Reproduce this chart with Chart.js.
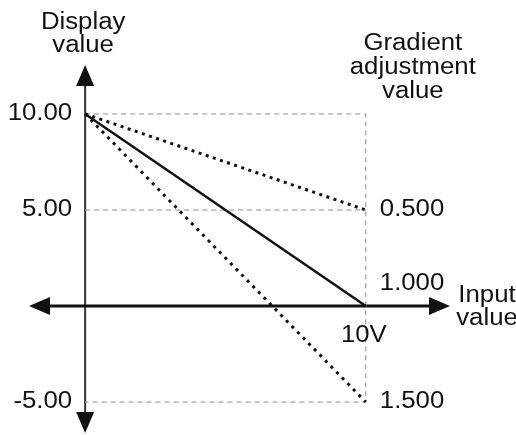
<!DOCTYPE html>
<html>
<head>
<meta charset="utf-8">
<script src="https://cdn.jsdelivr.net/npm/chart.js@4.4.0/dist/chart.umd.min.js"></script>
<style>
    html, body { margin: 0; padding: 0; background: #fff; }
    #wrap { width: 516px; height: 435px; }
</style>
</head>
<body>
<div id="wrap"><canvas id="chart"></canvas></div>
<script>
// input range (V) and the display value at each end, one list per gradient setting
const inputValues = [0, 10];
const gradient050 = [10, 5];
const gradient100 = [10, 0];
const gradient150 = [10, -5];

// tick labels
const displayTicks = [10, 5, -5];
const displayLabels = ['10.00', '5.00', '-5.00'];
const gradientAt = [5, 0, -5];
const gradientLabels = ['0.500', '1.000', '1.500'];
const fullScaleLabel = '10V';

const INK = '#111';
const FONT = '23px "Liberation Sans", Arial, sans-serif';

function points(ys) {
    return inputValues.map((x, i) => ({ x: x, y: ys[i] }));
}

// text in the source is a bit wider than Arial, so stretch it a little
function drawText(ctx, text, x, y, align) {
    ctx.save();
    ctx.translate(x, y);
    ctx.scale(1.12, 1);
    ctx.textAlign = align;
    ctx.textBaseline = 'middle';
    ctx.fillText(text, 0, 0);
    ctx.restore();
}

function arrow(ctx, tipX, tipY, dx, dy, len, half) {
    // dx, dy: unit direction the arrow points to
    const bx = tipX - dx * len, by = tipY - dy * len;
    ctx.beginPath();
    ctx.moveTo(tipX, tipY);
    ctx.lineTo(bx - dy * half, by + dx * half);
    ctx.lineTo(bx + dy * half, by - dx * half);
    ctx.closePath();
    ctx.fill();
}

const axesPlugin = {
    id: 'axesPlugin',
    beforeDatasetsDraw(chart) {
        const { ctx, chartArea: a, scales: { x, y } } = chart;
        const x0 = x.getPixelForValue(0);
        const y0 = y.getPixelForValue(0);
        ctx.save();
        ctx.strokeStyle = '#333';
        ctx.fillStyle = INK;
        ctx.lineWidth = 2;
        ctx.beginPath();
        ctx.moveTo(x0, a.top + 10);
        ctx.lineTo(x0, a.bottom - 10);
        ctx.stroke();
        ctx.strokeStyle = INK;
        ctx.lineWidth = 3;
        ctx.beginPath();
        ctx.moveTo(a.left + 10, y0);
        ctx.lineTo(a.right - 10, y0);
        ctx.stroke();
        arrow(ctx, x0, a.top, 0, -1, 21, 9);
        arrow(ctx, x0, a.bottom, 0, 1, 21, 9);
        arrow(ctx, a.left, y0, -1, 0, 21, 9);
        arrow(ctx, a.right, y0, 1, 0, 21, 9);
        ctx.restore();
    },
    afterDraw(chart) {
        const { ctx, chartArea: a, scales: { x, y } } = chart;
        const x0 = x.getPixelForValue(0);
        const x10 = x.getPixelForValue(inputValues[1]);
        const y0 = y.getPixelForValue(0);
        ctx.save();
        ctx.fillStyle = INK;
        ctx.font = FONT;

        // left axis
        drawText(ctx, 'Display', x0 - 2, a.top - 42, 'center');
        drawText(ctx, 'value', x0 - 2, a.top - 19, 'center');
        displayTicks.forEach((v, i) => {
            drawText(ctx, displayLabels[i], x0 - 13, y.getPixelForValue(v), 'right');
        });

        // right side: gradient setting for each line
        drawText(ctx, 'Gradient', x10 + 47, a.top - 21, 'center');
        drawText(ctx, 'adjustment', x10 + 47, a.top + 3, 'center');
        drawText(ctx, 'value', x10 + 47, a.top + 27, 'center');
        gradientAt.forEach((v, i) => {
            const off = v === 0 ? -22 : 0;
            drawText(ctx, gradientLabels[i], x10 + 14, y.getPixelForValue(v) + off, 'left');
        });

        // x axis
        drawText(ctx, fullScaleLabel, x10 - 2, y0 + 30, 'center');
        drawText(ctx, 'Input', a.right + 37, y0 - 10, 'center');
        drawText(ctx, 'value', a.right + 37, y0 + 13, 'center');
        ctx.restore();
    }
};

const lineStyle = {
    borderColor: INK,
    borderWidth: 2.5,
    pointRadius: 0,
    fill: false,
    tension: 0
};

new Chart(document.getElementById('chart'), {
    type: 'line',
    data: {
        datasets: [
            { ...lineStyle, label: '1.000', data: points(gradient100) },
            { ...lineStyle, label: '0.500', data: points(gradient050), borderWidth: 3, borderDash: [3, 4.5] },
            { ...lineStyle, label: '1.500', data: points(gradient150), borderWidth: 3, borderDash: [3, 5] },
            {
                label: 'frame',
                data: [
                    { x: inputValues[0], y: displayTicks[0] },
                    { x: inputValues[1], y: displayTicks[0] },
                    { x: inputValues[1], y: displayTicks[2] },
                    { x: inputValues[0], y: displayTicks[2] }
                ],
                borderColor: '#8c8c8c', borderWidth: 1, borderDash: [5, 4], pointRadius: 0, fill: false
            },
            {
                label: 'mid',
                data: [
                    { x: inputValues[0], y: displayTicks[1] },
                    { x: inputValues[1], y: displayTicks[1] }
                ],
                borderColor: '#8c8c8c', borderWidth: 1, borderDash: [5, 4], pointRadius: 0, fill: false
            }
        ]
    },
    options: {
        responsive: true,
        maintainAspectRatio: false,
        animation: false,
        events: [],
        layout: { padding: { left: 29, right: 66, top: 65, bottom: 2 } },
        plugins: {
            legend: { display: false },
            tooltip: { enabled: false }
        },
        scales: {
            x: { type: 'linear', min: -2, max: 13, display: false },
            y: { type: 'linear', min: -6.61, max: 12.55, display: false }
        }
    },
    plugins: [axesPlugin]
});
</script>
</body>
</html>
